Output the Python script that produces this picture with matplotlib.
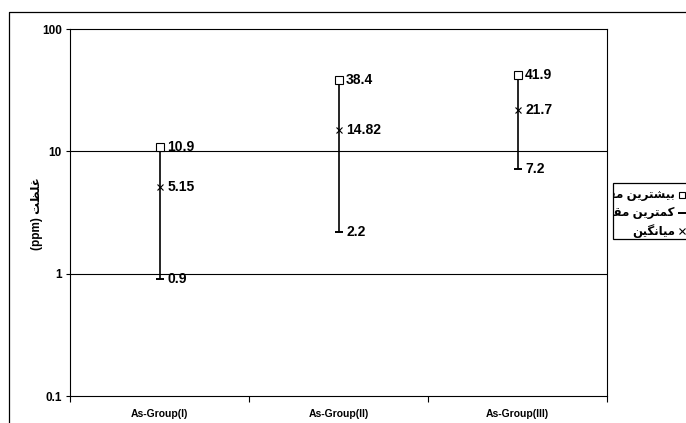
import matplotlib
matplotlib.use("Agg")
import matplotlib.pyplot as plt
from matplotlib.patches import Rectangle
from matplotlib.transforms import Bbox, TransformedBbox
import numpy as np

plt.rcParams.update({
    "font.family": ["Liberation Sans", "DejaVu Sans"],
    "font.weight": "bold",
    "axes.linewidth": 0.8,
})

groups = ["As-Group(I)", "As-Group(II)", "As-Group(III)"]
max_vals = [10.9, 38.4, 41.9]
min_vals = [0.9, 2.2, 7.2]
mean_vals = [5.15, 14.82, 21.7]
mean_labels = ["5.15", "14.82", "21.7"]

legend_labels = ["بیشترین مقدار", "کمترین مقدار", "میانگین"]
y_label = "غلظت (ppm)"
y_ticks = [0.1, 1, 10, 100]
y_tick_labels = ["0.1", "1", "10", "100"]

# presentation forms: isolated, final, initial, medial
FORMS = {
    "ا": ("\uFE8D", "\uFE8E", None, None),
    "ب": ("\uFE8F", "\uFE90", "\uFE91", "\uFE92"),
    "ت": ("\uFE95", "\uFE96", "\uFE97", "\uFE98"),
    "د": ("\uFEA9", "\uFEAA", None, None),
    "ر": ("\uFEAD", "\uFEAE", None, None),
    "ش": ("\uFEB5", "\uFEB6", "\uFEB7", "\uFEB8"),
    "ظ": ("\uFEC5", "\uFEC6", "\uFEC7", "\uFEC8"),
    "غ": ("\uFECD", "\uFECE", "\uFECF", "\uFED0"),
    "ق": ("\uFED5", "\uFED6", "\uFED7", "\uFED8"),
    "ل": ("\uFEDD", "\uFEDE", "\uFEDF", "\uFEE0"),
    "م": ("\uFEE1", "\uFEE2", "\uFEE3", "\uFEE4"),
    "ن": ("\uFEE5", "\uFEE6", "\uFEE7", "\uFEE8"),
    "ک": ("\uFB8E", "\uFB8F", "\uFB90", "\uFB91"),
    "گ": ("\uFB92", "\uFB93", "\uFB94", "\uFB95"),
    "ی": ("\uFBFC", "\uFBFD", "\uFBFE", "\uFBFF"),
}


def shape_word(word):
    if not any(ch in FORMS for ch in word):
        return word
    out = []
    for i, ch in enumerate(word):
        if ch not in FORMS:
            out.append(ch)
            continue
        prev = word[i - 1] if i > 0 else None
        nxt = word[i + 1] if i + 1 < len(word) else None
        jp = prev in FORMS and FORMS[prev][2] is not None
        jn = FORMS[ch][2] is not None and nxt in FORMS
        if jp and jn:
            out.append(FORMS[ch][3])
        elif jp:
            out.append(FORMS[ch][1])
        elif jn:
            out.append(FORMS[ch][2])
        else:
            out.append(FORMS[ch][0])
    return "".join(reversed(out))


def rtl(text):
    return " ".join(shape_word(w) for w in reversed(text.split(" ")))


W, H = 686, 423
fig = plt.figure(figsize=(W / 100, H / 100), dpi=100)

# overlay in pixel coordinates for the frame, legend and y label
over = fig.add_axes([0, 0, 1, 1])
over.set_xlim(0, W)
over.set_ylim(H, 0)
over.axis("off")
over.plot([9, 9, W + 5], [H + 5, 12, 12], color="black", lw=0.9)

ax = fig.add_axes([70 / W, (H - 396) / H, 537 / W, 367 / H])
x = np.arange(len(groups))

ax.set_yscale("log")
ax.set_ylim(0.1, 100)
ax.set_xlim(-0.5, len(groups) - 0.5)
for g in [1, 10]:
    ax.axhline(g, color="black", lw=0.8, zorder=1)

ax.vlines(x, min_vals, max_vals, color="black", lw=1.2, zorder=2)
ax.plot(x, max_vals, "s", ms=6, mfc="white", mec="black", mew=0.8, zorder=3)
ax.plot(x, min_vals, "_", ms=6, mec="black", mew=1.4, zorder=3)
ax.plot(x, mean_vals, "x", ms=4.5, mec="black", mew=0.8, zorder=3)

for xi, v in zip(x, max_vals):
    ax.annotate(f"{v:g}", (xi, v), xytext=(5.5, 0), textcoords="offset points",
                ha="left", va="center", fontsize=10, fontweight="bold")
for xi, v, lab in zip(x, mean_vals, mean_labels):
    ax.annotate(lab, (xi, v), xytext=(5.5, 0), textcoords="offset points",
                ha="left", va="center", fontsize=10, fontweight="bold")
for xi, v in zip(x, min_vals):
    ax.annotate(f"{v:g}", (xi, v), xytext=(5.5, 0), textcoords="offset points",
                ha="left", va="center", fontsize=10, fontweight="bold")

ax.set_yticks(y_ticks)
ax.set_yticklabels(y_tick_labels)
ax.yaxis.set_minor_locator(matplotlib.ticker.NullLocator())
ax.tick_params(axis="y", length=3, width=0.8, labelsize=8.5, pad=3)

ax.set_xticks(np.arange(len(groups) + 1) - 0.5)
ax.set_xticklabels([])
ax.set_xticks(x, minor=True)
ax.set_xticklabels(groups, minor=True)
ax.tick_params(axis="x", which="major", length=4, width=0.8)
ax.tick_params(axis="x", which="minor", length=0, labelsize=7.5, pad=9)

for s in ax.spines.values():
    s.set_color("black")

over.text(37, 214, rtl(y_label), rotation=90, ha="center", va="center",
          fontsize=8.5, fontweight="bold")

# legend box, clipped at the right edge of the image
box = Rectangle((613, 183), 120, 56, fill=True, facecolor="white",
                edgecolor="black", lw=0.9, zorder=5)
over.add_patch(box)
clip = TransformedBbox(Bbox([[614, 184], [733, 238]]), over.transData)
row_y = [195, 213, 231]
for yy, lab in zip(row_y, legend_labels):
    t = over.text(675, yy, rtl(lab), ha="right", va="center", fontsize=8.5,
                  fontweight="bold", zorder=6)
    t.set_clip_on(True)
    t.set_clip_box(clip)
over.plot([682], [row_y[0]], "s", ms=5, mfc="white", mec="black", mew=0.8, zorder=6)
over.plot([682], [row_y[1]], "_", ms=6, mec="black", mew=1.4, zorder=6)
over.plot([682], [row_y[2]], "x", ms=4, mec="black", mew=0.8, zorder=6)

fig.savefig("out.png", dpi=100)
